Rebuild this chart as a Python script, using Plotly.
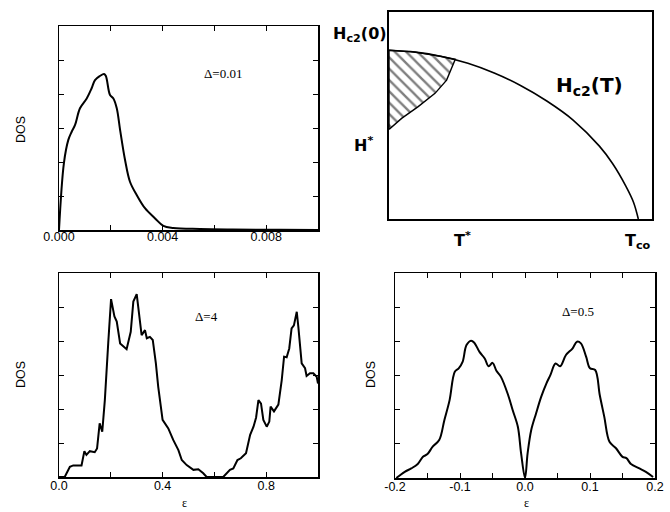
import plotly.graph_objects as go

W, H = 670, 512

# ---------------- data ----------------
# Top-left: DOS for Delta=0.01
tl_eps = [0, 0.00019, 0.00036, 0.00049, 0.00062, 0.00081, 0.00107, 0.00126, 0.00139,
          0.00158, 0.00174, 0.00181, 0.00197, 0.0021, 0.00223, 0.00236, 0.00255, 0.00274,
          0.003, 0.00332, 0.00371, 0.00403, 0.00441, 0.00544, 0.0067, 0.0085, 0.01]
tl_dos = [0, 1.97, 2.65, 2.89, 3.09, 3.58, 3.87, 4.17, 4.41, 4.53, 4.59, 4.53, 3.97,
          3.87, 3.58, 2.94, 2.06, 1.42, 1.03, 0.64, 0.34, 0.12, 0.06, 0.03, 0.015, 0.005, 0.0]

# Bottom-left: DOS for Delta=4
bl_eps = [0, 0.022, 0.042, 0.055, 0.068, 0.087, 0.098, 0.106, 0.119, 0.138, 0.147, 0.157,
          0.167, 0.177, 0.19, 0.201, 0.214, 0.223, 0.236, 0.249, 0.261, 0.277, 0.287, 0.3,
          0.313, 0.319, 0.332, 0.339, 0.351, 0.362, 0.374, 0.383, 0.4, 0.409, 0.422, 0.441,
          0.461, 0.474, 0.493, 0.519, 0.538, 0.557, 0.57, 0.634, 0.647, 0.66, 0.673, 0.689,
          0.702, 0.722, 0.738, 0.751, 0.761, 0.77, 0.78, 0.789, 0.802, 0.812, 0.817, 0.83,
          0.847, 0.86, 0.869, 0.879, 0.889, 0.898, 0.907, 0.918, 0.924, 0.937, 0.95, 0.956,
          0.969, 0.982, 0.995, 1.0]
bl_dos = [0, 0, 0.30, 0.34, 0.34, 0.34, 0.76, 0.65, 0.76, 0.73, 0.84, 1.58,
          1.33, 2.26, 3.93, 5.23, 4.72, 4.57, 3.93, 3.85, 3.76, 4.27, 5.16, 5.38,
          4.52, 4.17, 4.32, 4.08, 4.12, 4.03, 3.34, 2.66, 1.68, 1.58, 1.43, 1.09,
          0.79, 0.50, 0.35, 0.21, 0.23, 0.11, 0, 0, 0.11, 0.21, 0.25, 0.50,
          0.55, 0.70, 1.24, 1.48, 1.75, 2.26, 2.16, 1.68, 1.48, 1.63, 2.07, 1.93,
          2.13, 2.85, 3.54, 3.52, 3.78, 4.37, 4.46, 4.86, 4.42, 3.34, 3.20, 2.97,
          3.05, 3.05, 2.95, 2.75]

# Bottom-right: DOS for Delta=0.5
br_eps = [-0.198, -0.185, -0.175, -0.165, -0.157, -0.150, -0.142, -0.132, -0.124, -0.116,
          -0.108, -0.102, -0.096, -0.090, -0.083, -0.078, -0.070, -0.062, -0.056, -0.050,
          -0.044, -0.037, -0.026, -0.019, -0.011, -0.006, 0.0,
          0.004, 0.0095, 0.017, 0.025, 0.033, 0.039, 0.047, 0.054, 0.063, 0.073, 0.080,
          0.086, 0.094, 0.100, 0.108, 0.115, 0.122, 0.130, 0.140, 0.150, 0.156, 0.163,
          0.176, 0.186, 0.197]
br_dos = [0.0, 0.18, 0.28, 0.41, 0.62, 0.70, 0.92, 1.11, 1.70, 2.28,
          3.11, 3.21, 3.40, 3.89, 4.02, 3.96, 3.69, 3.50, 3.27, 3.37,
          3.14, 2.96, 2.43, 1.99, 1.50, 0.72, 0.0,
          0.72, 1.40, 1.89, 2.38, 2.77, 3.01, 3.35, 3.27, 3.60, 3.79, 3.99,
          3.94, 3.55, 3.21, 3.16, 2.43, 1.79, 1.06, 0.87, 0.62, 0.58, 0.41,
          0.28, 0.18, 0.03]

# Top-right: schematic Hc2(T) phase diagram (normalised T, H)
hc2_T = [0.0, 0.1, 0.2, 0.3, 0.4, 0.5, 0.6, 0.7, 0.8, 0.85, 0.9, 0.93, 0.948]
hc2_H = [0.815, 0.806, 0.785, 0.752, 0.705, 0.645, 0.570, 0.478, 0.352, 0.268, 0.160, 0.080, 0.0]
# hatched region (lower boundary from H* up to the curve, then back along Hc2)
hatch_T = [0.0, 0.048, 0.111, 0.175, 0.219, 0.238, 0.252, 0.200, 0.100, 0.0, 0.0]
hatch_H = [0.433, 0.486, 0.543, 0.607, 0.671, 0.728, 0.772, 0.785, 0.806, 0.815, 0.433]

# tick positions / labels
tl_ticks = [0, 0.004, 0.008]
tl_text = ["0.000", "0.004", "0.008"]
tl_minor = [0.002, 0.006]
bl_ticks = [0, 0.4, 0.8]
bl_text = ["0.0", "0.4", "0.8"]
bl_minor = [0.2, 0.6]
br_ticks = [-0.2, -0.1, 0.0, 0.1, 0.2]
br_text = ["-0.2", "-0.1", "0.0", "0.1", "0.2"]
br_minor = [-0.15, -0.05, 0.05, 0.15]
y_ticks = [1, 2, 3, 4, 5]


def px(x):
    return x / W


def py(y):
    return 1 - y / H


fig = go.Figure()
line = dict(color="black", width=2)

fig.add_trace(go.Scatter(x=tl_eps, y=tl_dos, mode="lines", line=line, xaxis="x", yaxis="y",
                         line_shape="spline"))
fig.add_trace(go.Scatter(x=hatch_T, y=hatch_H, mode="lines", fill="toself",
                         line=dict(color="black", width=1.4), fillcolor="white",
                         fillpattern=dict(shape="\\", size=8, solidity=0.3, fgcolor="black",
                                          bgcolor="white"),
                         xaxis="x2", yaxis="y2"))
fig.add_trace(go.Scatter(x=hc2_T, y=hc2_H, mode="lines", line=dict(color="black", width=1.6),
                         line_shape="spline", xaxis="x2", yaxis="y2"))
fig.add_trace(go.Scatter(x=bl_eps, y=bl_dos, mode="lines", line=line, xaxis="x3", yaxis="y3"))
fig.add_trace(go.Scatter(x=br_eps, y=br_dos, mode="lines", line=line, xaxis="x4", yaxis="y4",
                         line_shape="spline"))

tickfont = dict(family="Liberation Sans, Arial, sans-serif", size=12.5, color="black")
common_x = dict(showline=True, linecolor="black", linewidth=1.5, mirror="ticks",
                ticks="inside", ticklen=5, tickwidth=1, tickcolor="black",
                showgrid=False, zeroline=False, tickfont=tickfont, tickmode="array",
                automargin=False)
common_y = dict(showline=True, linecolor="black", linewidth=1.5, mirror="ticks",
                ticks="inside", ticklen=5, tickwidth=1, tickcolor="black",
                showgrid=False, zeroline=False, showticklabels=False,
                tickmode="array", tickvals=y_ticks, range=[0, 6], automargin=False)


def minor(vals):
    return dict(tickmode="array", tickvals=vals, ticks="inside", ticklen=5, tickwidth=1,
                tickcolor="black", showgrid=False)


fig.update_layout(
    width=W, height=H, margin=dict(l=0, r=0, t=0, b=0, pad=0, autoexpand=False),
    paper_bgcolor="white", plot_bgcolor="white", showlegend=False,
    xaxis=dict(common_x, domain=[px(59), px(318)], range=[0, 0.01],
               tickvals=tl_ticks, ticktext=tl_text, minor=minor(tl_minor), anchor="y",
               ticklabelstandoff=-6),
    yaxis=dict(common_y, domain=[py(230), py(26)], anchor="x"),
    xaxis2=dict(domain=[px(389), px(652)], range=[0, 1], showline=True, linecolor="black",
                linewidth=2, mirror=True, showticklabels=False, ticks="", showgrid=False,
                zeroline=False, anchor="y2", automargin=False),
    yaxis2=dict(domain=[py(219), py(12)], range=[0, 1], showline=True, linecolor="black",
                linewidth=2, mirror=True, showticklabels=False, ticks="", showgrid=False,
                zeroline=False, anchor="x2", automargin=False),
    xaxis3=dict(common_x, domain=[px(59), px(318)], range=[0, 1],
                tickvals=bl_ticks, ticktext=bl_text, minor=minor(bl_minor), anchor="y3",
                ticklabelstandoff=-4),
    yaxis3=dict(common_y, domain=[py(477), py(273)], anchor="x3"),
    xaxis4=dict(common_x, domain=[px(395), px(655)], range=[-0.2, 0.2],
                tickvals=br_ticks, ticktext=br_text, minor=minor(br_minor), anchor="y4",
                ticklabelstandoff=-4),
    yaxis4=dict(common_y, domain=[py(478), py(273)], anchor="x4"),
)

serif = dict(family="Liberation Serif, Times New Roman, serif", size=13, color="black")
sans = dict(family="Liberation Sans, Arial, sans-serif", size=12.5, color="black")
hand = dict(family="DejaVu Sans, sans-serif", size=16, color="black")


def note(x, y, text, font, **kw):
    return dict(x=px(x), y=py(y), xref="paper", yref="paper", text=text, showarrow=False,
                xanchor="center", yanchor="middle", font=font, **kw)


ann = []
# panel annotations (data coords)
ann.append(dict(x=0.00633, y=4.59, xref="x", yref="y", text="Δ=0.01", showarrow=False,
                xanchor="center", yanchor="middle", font=serif))
ann.append(dict(x=0.571, y=4.71, xref="x3", yref="y3", text="Δ=4", showarrow=False,
                xanchor="center", yanchor="middle", font=serif))
ann.append(dict(x=0.081, y=4.88, xref="x4", yref="y4", text="Δ=0.5", showarrow=False,
                xanchor="center", yanchor="middle", font=serif))
# DOS labels
for (x, y) in [(21, 130), (21, 375), (371, 375)]:
    ann.append(note(x, y, "DOS", sans, textangle=-90))
# epsilon axis titles (near bottom edge)
for x in [184, 526]:
    ann.append(note(x, 503, "ε", dict(family="Liberation Serif, serif", size=12, color="black")))
# phase diagram labels
ann.append(note(360, 34, "<b>H<sub>c2</sub>(0)</b>", hand))
ann.append(note(364, 144, "<b>H<sup>*</sup></b>", hand))
ann.append(note(589, 86, "<b>H<sub>c2</sub>(T)</b>",
                dict(family="DejaVu Sans, sans-serif", size=20, color="black")))
ann.append(note(462, 239, "<b>T<sup>*</sup></b>", hand))
ann.append(note(638, 241, "<b>T<sub>co</sub></b>", hand))
fig.update_layout(annotations=ann)

fig.write_html("out.html", config={"displayModeBar": False, "staticPlot": True},
               post_script="document.body.style.margin='0px';document.body.style.overflow='hidden';")
